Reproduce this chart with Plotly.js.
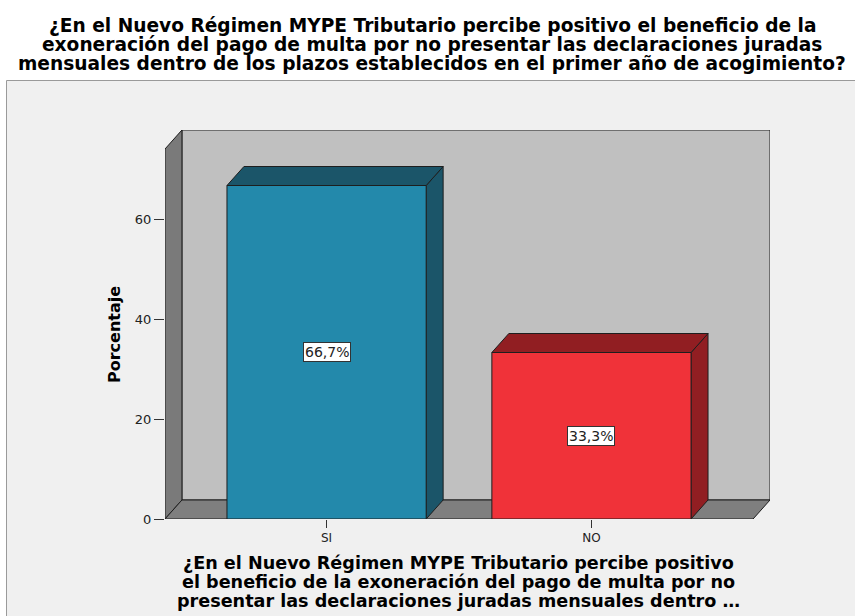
<!DOCTYPE html>
<html>
<head>
<meta charset="utf-8">
<script src="https://cdn.plot.ly/plotly-3.0.1.min.js"></script>
<style>html,body{margin:0;padding:0;background:#fff;}#chart{width:855px;height:616px;}</style>
</head>
<body>
<div id="chart"></div>
<script>
// ---- data ----
const categories = ['SI', 'NO'];
const percentages = [66.7, 33.3];
const valueLabels = ['66,7%', '33,3%'];
const yTicks = [0, 20, 40, 60];
const titleLines = [
  '¿En el Nuevo Régimen MYPE Tributario percibe positivo el beneficio de la',
  'exoneración del pago de multa por no presentar las declaraciones juradas',
  'mensuales dentro de los plazos establecidos en el primer año de acogimiento?'
];
const xTitleLines = [
  '¿En el Nuevo Régimen MYPE Tributario percibe positivo',
  'el beneficio de la exoneración del pago de multa por no',
  'presentar las declaraciones juradas mensuales dentro …'
];
const yTitle = 'Porcentaje';

// ---- styling / geometry ----
const frontColors = ['#2389ab', '#f03239'];
const darkColors = ['#1b5569', '#911e22'];
const edge = '#1e1e1e';
const xMin = -0.61, xMax = 1.61;   // front plane extent (category units)
const yTop = 74;                    // front plane top (percent)
const depthX = 0.064, depthY = 3.8; // 3D depth offset
const halfW = 0.376;

const W = 855, H = 616;
const M = {l: 165, r: 85, t: 130, b: 97};
const plotW = W - M.l - M.r, plotH = H - M.t - M.b;
const px2paperX = p => (p - M.l) / plotW;
const px2paperY = p => (H - M.b - p) / plotH;

function poly(xs, ys, fill) {
  return {
    type: 'scatter', mode: 'lines', x: xs.concat([xs[0]]), y: ys.concat([ys[0]]),
    fill: 'toself', fillcolor: fill, line: {color: edge, width: 1},
    hoverinfo: 'skip', showlegend: false
  };
}

const traces = [];
traces.push(poly([xMin + depthX, xMax + depthX, xMax + depthX, xMin + depthX],
                 [depthY, depthY, yTop + depthY, yTop + depthY], '#c0c0c0'));
traces.push(poly([xMin, xMin + depthX, xMin + depthX, xMin],
                 [0, depthY, yTop + depthY, yTop], '#7a7a7a'));
traces.push(poly([xMin, xMax, xMax + depthX, xMin + depthX],
                 [0, 0, depthY, depthY], '#7f7f7f'));
categories.forEach((c, i) => {
  const v = percentages[i];
  const a = i - halfW, b = i + halfW;
  traces.push(poly([b, b + depthX, b + depthX, b], [0, depthY, v + depthY, v], darkColors[i]));
  traces.push(poly([a, b, b + depthX, a + depthX], [v, v, v + depthY, v + depthY], darkColors[i]));
  traces.push(poly([a, b, b, a], [0, 0, v, v], frontColors[i]));
});

const annotations = [];
const wideFont = 'DejaVu Sans, Verdana, sans-serif';
titleLines.forEach((t, k) => {
  annotations.push({text: '<b>' + t + '</b>', xref: 'paper', yref: 'paper',
    x: px2paperX(432), y: px2paperY(25.5 + 19 * k), xanchor: 'center', yanchor: 'middle',
    showarrow: false, font: {family: wideFont, size: 18.6, color: '#000'}});
});
xTitleLines.forEach((t, k) => {
  annotations.push({text: '<b>' + t + '</b>', xref: 'paper', yref: 'paper',
    x: px2paperX(458), y: px2paperY(563 + 19 * k), xanchor: 'center', yanchor: 'middle',
    showarrow: false, font: {family: wideFont, size: 17.6, color: '#000'}});
});
annotations.push({text: '<b>' + yTitle + '</b>', xref: 'paper', yref: 'paper',
  x: px2paperX(114), y: px2paperY(335), xanchor: 'center', yanchor: 'middle', textangle: -90,
  showarrow: false, font: {family: wideFont, size: 16, color: '#000'}});
categories.forEach((c, i) => {
  annotations.push({text: valueLabels[i], x: i, y: percentages[i] / 2, xref: 'x', yref: 'y',
    showarrow: false, bgcolor: '#fff', bordercolor: '#333', borderwidth: 1, borderpad: 1,
    font: {family: wideFont, size: 14, color: '#222'}});
});

const layout = {
  width: W, height: H, margin: M,
  paper_bgcolor: '#ffffff', plot_bgcolor: 'rgba(0,0,0,0)',
  showlegend: false,
  xaxis: {range: [xMin, xMax + depthX], tickvals: categories.map((c, i) => i), ticktext: categories,
    showgrid: false, zeroline: false, showline: false, ticks: 'outside', ticklen: 8,
    tickcolor: '#333', tickwidth: 1, tickfont: {family: wideFont, size: 12, color: '#222'}, fixedrange: true},
  yaxis: {range: [0, yTop + depthY], tickvals: yTicks, showgrid: false, zeroline: false, showline: false,
    ticks: 'outside', ticklen: 10, tickcolor: '#333', tickwidth: 1,
    tickfont: {family: wideFont, size: 13, color: '#222'}, fixedrange: true},
  shapes: [{type: 'rect', xref: 'paper', yref: 'paper', layer: 'below',
    x0: px2paperX(6.5), x1: px2paperX(900), y0: px2paperY(700), y1: px2paperY(80.5),
    fillcolor: '#f0f0f0', line: {color: '#9a9a9a', width: 1}}],
  annotations: annotations
};

Plotly.newPlot('chart', traces, layout, {displayModeBar: false, staticPlot: true});
</script>
</body>
</html>
